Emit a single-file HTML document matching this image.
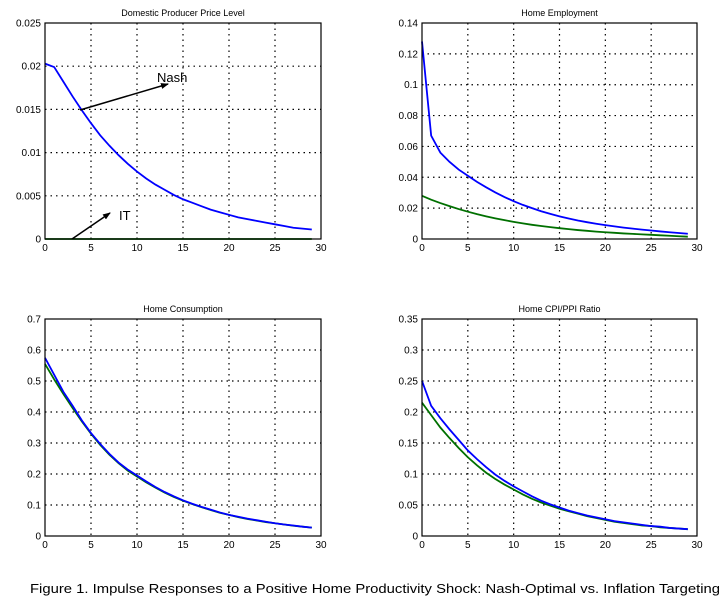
<!DOCTYPE html>
<html><head><meta charset="utf-8"><style>
html,body{margin:0;padding:0;background:#fff;}
svg{display:block;font-family:"Liberation Sans",sans-serif;}
</style></head><body>
<svg id="fig" width="723" height="607" viewBox="0 0 723 607">
<text x="375" y="593" font-size="13" text-anchor="middle" textLength="690" lengthAdjust="spacingAndGlyphs">Figure 1. Impulse Responses to a Positive Home Productivity Shock: Nash-Optimal vs. Inflation Targeting</text>
</svg>
<script>
const periods = Array.from({length:30},(_,i)=>i);
const xTicks = [0,5,10,15,20,25,30];
const ppiNash = [0.0203,0.0199,0.0182,0.0165,0.0149,0.0134,0.0120,0.0108,0.0097,0.0087,0.0078,0.0070,0.0063,0.0057,0.0051,0.0046,0.0042,0.0038,0.0034,0.0031,0.0028,0.0025,0.0023,0.0021,0.0019,0.0017,0.0015,0.0013,0.0012,0.0011];
const ppiIT = [0,0,0,0,0,0,0,0,0,0,0,0,0,0,0,0,0,0,0,0,0,0,0,0,0,0,0,0,0,0];
const ppiTicks = ["0","0.005","0.01","0.015","0.02","0.025"];
const empNash = [0.128,0.067,0.056,0.050,0.045,0.041,0.037,0.0335,0.0302,0.0272,0.0245,0.0221,0.020,0.018,0.0163,0.0147,0.0133,0.012,0.0109,0.0099,0.009,0.0082,0.0074,0.0067,0.0061,0.0055,0.0049,0.0044,0.0039,0.0034];
const empIT = [0.028,0.0255,0.0233,0.0213,0.0194,0.0177,0.0161,0.0147,0.0134,0.0122,0.0111,0.0101,0.0092,0.0084,0.0077,0.007,0.0064,0.0058,0.0053,0.0048,0.0044,0.004,0.0036,0.0033,0.003,0.0027,0.0024,0.0021,0.0018,0.0015];
const empTicks = ["0","0.02","0.04","0.06","0.08","0.1","0.12","0.14"];
const consNash = [0.575,0.52,0.465,0.42,0.373,0.332,0.297,0.265,0.237,0.214,0.195,0.176,0.158,0.142,0.128,0.115,0.104,0.094,0.085,0.076,0.068,0.062,0.056,0.051,0.046,0.041,0.037,0.034,0.030,0.027];
const consIT = [0.555,0.505,0.458,0.413,0.370,0.330,0.294,0.262,0.235,0.211,0.192,0.173,0.156,0.140,0.126,0.114,0.103,0.093,0.084,0.075,0.068,0.061,0.055,0.050,0.045,0.041,0.037,0.033,0.030,0.027];
const consTicks = ["0","0.1","0.2","0.3","0.4","0.5","0.6","0.7"];
const cpiNash = [0.25,0.21,0.19,0.172,0.155,0.138,0.124,0.111,0.099,0.089,0.080,0.072,0.064,0.057,0.051,0.046,0.041,0.037,0.033,0.030,0.027,0.024,0.022,0.020,0.018,0.016,0.015,0.013,0.012,0.011];
const cpiIT = [0.215,0.195,0.175,0.158,0.142,0.127,0.114,0.102,0.092,0.083,0.075,0.067,0.060,0.054,0.049,0.044,0.040,0.036,0.032,0.029,0.026,0.023,0.021,0.019,0.017,0.016,0.014,0.013,0.012,0.011];
const cpiTicks = ["0","0.05","0.1","0.15","0.2","0.25","0.3","0.35"];

const NS="http://www.w3.org/2000/svg";
const svg=document.getElementById('fig');
function mk(tag,attrs,parent){const e=document.createElementNS(NS,tag);for(const k in attrs)e.setAttribute(k,attrs[k]);(parent||svg).appendChild(e);return e;}

function panel(id,title,L,R,T,B,yTicks,ymax,nash,it){
  const g=mk('g',{});
  
  
  const sx=v=>L+(v-0)/30*(R-L);
  const sy=v=>B-v/ymax*(B-T);
  const t=mk('text',{x:(L+R)/2,y:T-7,'font-size':9,'text-anchor':'middle'},g);
  t.textContent=title;
  
  
  xTicks.forEach(v=>{
    if(v>0&&v<30){const l=mk('line',{x1:sx(v),x2:sx(v),y1:T,y2:B,stroke:'#000','stroke-width':1.2,'stroke-dasharray':'1.5,4'},g);
    
    }
    const tx=mk('text',{x:sx(v),y:B+12,'font-size':10,'text-anchor':'middle'},g);
    tx.textContent=v;
    
    
  });
  const step=ymax/(yTicks.length-1);
  yTicks.forEach((lab,i)=>{
    const v=i*step;
    if(i>0&&i<yTicks.length-1){const l=mk('line',{x1:L,x2:R,y1:sy(v),y2:sy(v),stroke:'#000','stroke-width':1.2,'stroke-dasharray':'1.5,4'},g);
    
    }
    const ty=mk('text',{x:L-4,y:sy(v)+3.5,'font-size':10,'text-anchor':'end'},g);
    ty.textContent=lab;
    
    
  });
  const mkLine=(arr,color,name)=>{
    const p=mk('polyline',{points:arr.map((v,i)=>sx(periods[i])+','+sy(v)).join(' '),fill:'none',stroke:color,'stroke-width':1.8},g);
    
    
  };
  mkLine(it,'#007000',id+'-it-line');
  mkLine(nash,'#0000ff',id+'-nash-line');
  const fr=mk('rect',{x:L,y:T,width:R-L,height:B-T,fill:'none',stroke:'#000','stroke-width':1.2},g);
  
  
  return {sx,sy,g};
}
panel('ppi','Domestic Producer Price Level',45,321,23,239,ppiTicks,0.025,ppiNash,ppiIT);
panel('employment','Home Employment',422,697,23,239,empTicks,0.14,empNash,empIT);
panel('consumption','Home Consumption',45,321,319,536,consTicks,0.7,consNash,consIT);
panel('cpi-ppi','Home CPI/PPI Ratio',422,697,319,536,cpiTicks,0.35,cpiNash,cpiIT);

const defs=mk('defs',{});
const mrk=mk('marker',{id:'ah',markerWidth:8,markerHeight:6,refX:7,refY:3,orient:'auto',markerUnits:'userSpaceOnUse'},defs);
mk('path',{d:'M0,0 L8,3 L0,6 Z',fill:'#000'},mrk);
const a1=mk('line',{x1:80,y1:110,x2:168,y2:84,stroke:'#000','stroke-width':1.5,'marker-end':'url(#ah)'});


const t1=mk('text',{x:157,y:82,'font-size':13});
t1.textContent='Nash';


const a2=mk('line',{x1:72,y1:239,x2:110,y2:213,stroke:'#000','stroke-width':1.5,'marker-end':'url(#ah)'});


const t2=mk('text',{x:119,y:220,'font-size':13});
t2.textContent='IT';


</script>
</body></html>
